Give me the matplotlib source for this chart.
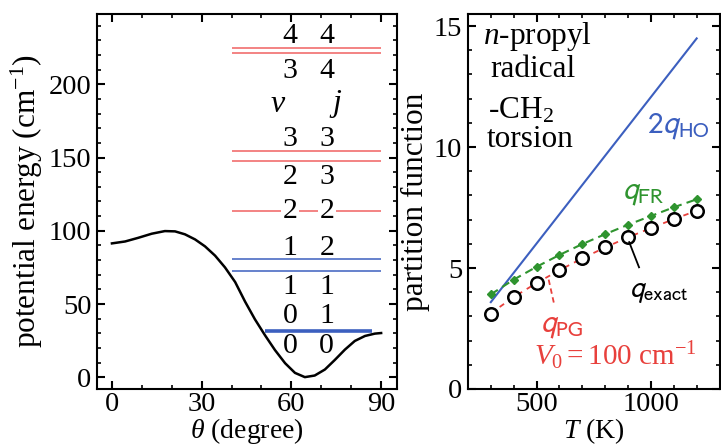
import matplotlib
matplotlib.use("Agg")
import matplotlib.pyplot as plt
from matplotlib.ticker import MultipleLocator

plt.rcParams['font.family'] = 'Liberation Serif'
plt.rcParams['mathtext.fontset'] = 'custom'
plt.rcParams['mathtext.rm'] = 'Liberation Serif'
plt.rcParams['mathtext.it'] = 'Liberation Serif:italic'
plt.rcParams['mathtext.bf'] = 'Liberation Serif:bold'
plt.rcParams['axes.linewidth'] = 1.5

# torsional potential
theta = [0, 4.4, 8.8, 13.3, 17.7, 21.1, 24.4, 27.8, 31.1, 34.5, 37.8, 41.2, 44.5,
         47.8, 51.2, 54.5, 57.9, 61.2, 64.5, 67.8, 71.2, 74.5, 77.9, 81.2, 84.6,
         87.9, 90]
pot = [91.4, 92.7, 95.2, 98.0, 99.8, 99.6, 97.6, 94.1, 89.4, 83.0, 75.0, 65.0, 51.7,
       39.6, 28.6, 18.6, 9.6, 3.0, 0.1, 1.2, 5.3, 11.8, 18.9, 24.8, 28.2,
       29.8, 30.2]

# energy levels (cm^-1)
red_levels = [224.9, 221.3, 154.3, 147.4, 113.7]
blue_levels = [80.9, 72.3]
ground_level = 31.9
level_labels = [("4", "4", 233.1), ("3", "4", 209.2), ("3", "3", 162.9),
                ("2", "3", 136.7), ("2", "2", 113.7), ("1", "2", 88.4),
                ("1", "1", 61.8), ("0", "1", 41.7), ("0", "0", 21.2)]

# partition functions
T = [300, 400, 500, 600, 700, 800, 900, 1000, 1100, 1200]
q_exact = [3.11, 3.80, 4.38, 4.91, 5.42, 5.85, 6.27, 6.65, 7.02, 7.37]
q_pg = [3.13, 3.80, 4.38, 4.91, 5.40, 5.85, 6.27, 6.65, 7.02, 7.37]
q_fr = [3.91, 4.52, 5.05, 5.54, 5.99, 6.40, 6.79, 7.15, 7.51, 7.84]
T_ho = [300, 1200]
q_ho2 = [3.59, 14.49]

red = '#e8403c'
red_lvl = '#f06262'
blue = '#3c5fbf'
green = '#2f942f'
fs_tick = 20.5
fs_lab = 22.5
fs_txt = 22.5

fig = plt.figure(figsize=(7.21, 4.48), dpi=100)
ax1 = fig.add_axes([0.1345, 0.1317, 0.4161, 0.8371])
ax2 = fig.add_axes([0.649, 0.1317, 0.349, 0.8371])

for ax in (ax1, ax2):
    ax.tick_params(which='both', direction='in', top=True, right=True,
                   labelsize=fs_tick, pad=4)
    ax.tick_params(axis='x', which='both', pad=2.5)
    ax.tick_params(which='major', length=5.5, width=1.5)
    ax.tick_params(which='minor', length=3, width=1.2)

# ---- left panel ----
ax1.plot(theta, pot, color='black', lw=1.8, solid_joinstyle='round')
for e in red_levels:
    ax1.hlines(e, 40.3, 90, color=red_lvl, lw=1.1)
for e in blue_levels:
    ax1.hlines(e, 40.3, 90, color=blue, lw=1.1)
ax1.hlines(ground_level, 51.2, 86.9, color=blue, lw=2.6)
for v, j, e in level_labels:
    if v == j and v == "2":
        bb = dict(facecolor='white', edgecolor='none', pad=1)
    else:
        bb = None
    ax1.text(59.6, e, v, ha='center', va='center', fontsize=21.5, bbox=bb)
    ax1.text(71.8, e, j, ha='center', va='center', fontsize=21.5, bbox=bb)
ax1.text(55.5, 186.4, r'$v$', ha='center', va='center', fontsize=23)
ax1.text(75, 186.4, r'$j$', ha='center', va='center', fontsize=23)

ax1.set_xlim(-5, 95.3)
ax1.set_ylim(-8, 248)
ax1.xaxis.set_major_locator(MultipleLocator(30))
ax1.xaxis.set_minor_locator(MultipleLocator(10))
ax1.yaxis.set_major_locator(MultipleLocator(50))
ax1.yaxis.set_minor_locator(MultipleLocator(10))
ax1.set_xlabel(r'$\theta$ (degree)', fontsize=20, va='bottom')
ax1.xaxis.set_label_coords(0.5, -0.153)
ax1.set_ylabel(r'potential energy (cm$^{-1}$)', fontsize=fs_lab, labelpad=3)

# ---- right panel ----
ax2.plot(T_ho, q_ho2, color=blue, lw=1.5)
ax2.plot(T, q_fr, color=green, ls='--', lw=1.5, marker='D', ms=4, dashes=(4, 2.5))
ax2.plot(T, q_pg, color=red, ls='--', lw=1.3, dashes=(3, 3))
ax2.plot(T, q_exact, ls='none', marker='o', ms=9, mfc='white', mec='black', mew=1.8)
ax2.plot([948, 905], [5.03, 6.07], color='black', lw=1.3)
ax2.plot([553, 578], [4.52, 3.46], color=red, lw=1.3, ls='--', dashes=(3, 2))

ax2.text(265, 14.25, r'$n$-propyl', fontsize=fs_txt)
ax2.text(296, 12.9, 'radical', fontsize=fs_txt)
ax2.text(287, 11.2, r'-CH$_2$', fontsize=fs_txt)
ax2.text(283, 10.02, 'torsion', fontsize=fs_txt)
ax2.text(984, 10.58, r'$2q_{\mathrm{HO}}$', fontsize=fs_txt, color=blue,
         math_fontfamily='stixsans')
ax2.text(875, 7.84, r'$q_{\mathrm{FR}}$', fontsize=fs_txt, color=green,
         math_fontfamily='stixsans')
ax2.text(904, 3.80, r'$q_{\mathrm{exact}}$', fontsize=21, color='black',
         math_fontfamily='stixsans')
ax2.text(513, 2.35, r'$q_{\mathrm{PG}}$', fontsize=fs_txt, color=red,
         math_fontfamily='stixsans')
ax2.text(491, 0.97, r'$V_0 = 100\ \mathrm{cm}^{-1}$', fontsize=21, color=red)

ax2.set_xlim(200, 1300)
ax2.set_ylim(0, 15.5)
ax2.xaxis.set_major_locator(MultipleLocator(500))
ax2.xaxis.set_minor_locator(MultipleLocator(100))
ax2.yaxis.set_major_locator(MultipleLocator(5))
ax2.yaxis.set_minor_locator(MultipleLocator(1))
ax2.set_xlabel(r'$T$ (K)', fontsize=20, va='bottom')
ax2.xaxis.set_label_coords(0.5, -0.153)
ax2.set_ylabel('partition function', fontsize=fs_lab, labelpad=3)

fig.savefig('out.png', dpi=100)
